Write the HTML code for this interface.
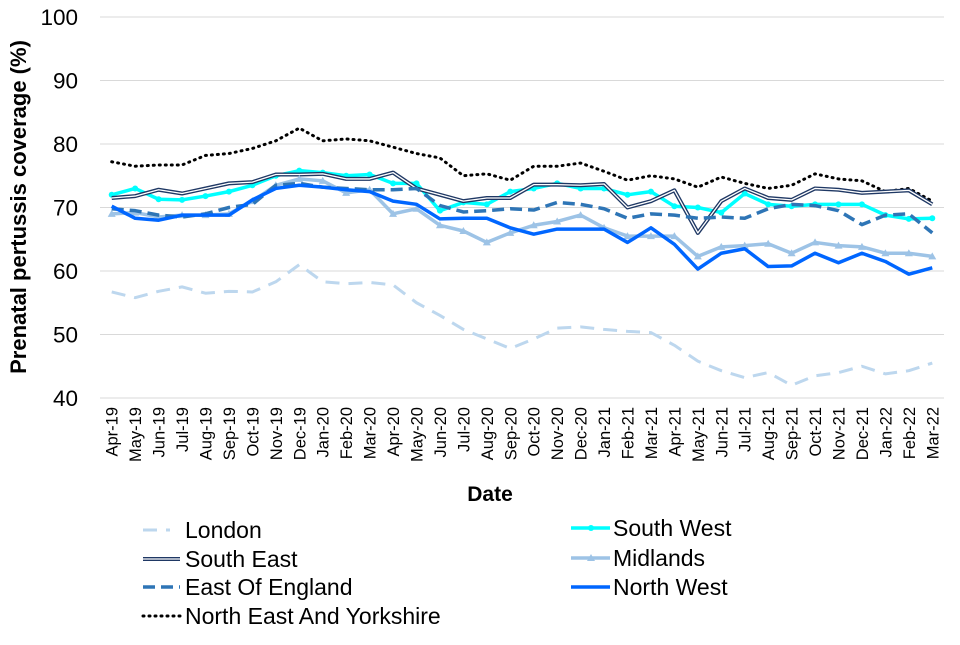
<!DOCTYPE html>
<html><head><meta charset="utf-8"><style>
body{margin:0;background:#fff;font-family:"Liberation Sans",Arial,sans-serif}
</style></head><body>
<svg id="c" width="960" height="640" font-family="Liberation Sans, Arial, sans-serif"></svg>
<script>
const months=["Apr-19","May-19","Jun-19","Jul-19","Aug-19","Sep-19","Oct-19","Nov-19","Dec-19","Jan-20","Feb-20","Mar-20","Apr-20","May-20","Jun-20","Jul-20","Aug-20","Sep-20","Oct-20","Nov-20","Dec-20","Jan-21","Feb-21","Mar-21","Apr-21","May-21","Jun-21","Jul-21","Aug-21","Sep-21","Oct-21","Nov-21","Dec-21","Jan-22","Feb-22","Mar-22"];
const yTicks=[40,50,60,70,80,90,100];
const london=[56.7,55.8,56.8,57.5,56.5,56.8,56.7,58.3,61,58.3,58,58.2,57.8,55,53,50.8,49.3,47.8,49.3,51,51.2,50.8,50.5,50.3,48.3,45.8,44.3,43.2,44,42,43.5,44,45,43.8,44.3,45.5];
const southWest=[72,73,71.3,71.2,71.8,72.5,73.5,75,75.8,75.5,75,75.2,73.8,73.8,69.5,70.8,70.5,72.5,73,73.8,73,73,72,72.5,70.2,70,69.2,72.2,70.5,70.2,70.5,70.5,70.5,68.8,68.2,68.3];
const southEast=[71.5,71.8,72.8,72.2,73,73.8,74,75.2,75.2,75.3,74.5,74.5,75.5,73,72,71,71.5,71.5,73.6,73.6,73.5,73.7,70,71,72.7,66,71,73,71.5,71.2,73,72.8,72.3,72.5,72.7,70.5];
const eastEngland=[69.8,69.5,68.8,68.5,69,70,70.5,73.5,73.8,73.2,73,72.8,72.8,73,70.3,69.3,69.5,69.8,69.6,70.8,70.5,69.8,68.3,69,68.8,68.3,68.5,68.3,69.8,70.5,70.3,69.5,67.3,68.8,69,66];
const midlands=[69,69.2,68.5,68.8,68.8,69,71,73.5,74.5,74.2,72.3,72.8,69,69.8,67.2,66.3,64.5,66,67.2,67.8,68.8,66.8,65.5,65.5,65.5,62.3,63.8,64,64.3,62.8,64.5,64,63.8,62.8,62.8,62.3];
const northWest=[70.2,68.3,68,68.8,68.8,68.8,71.2,73,73.5,73.2,72.8,72.5,71,70.5,68.2,68.3,68.3,66.8,65.8,66.6,66.6,66.6,64.5,66.8,64.2,60.3,62.8,63.5,60.7,60.8,62.8,61.3,62.8,61.5,59.5,60.5];
const northEast=[77.2,76.5,76.7,76.7,78.2,78.5,79.3,80.5,82.5,80.5,80.8,80.5,79.5,78.5,77.8,75,75.3,74.3,76.5,76.5,77,75.7,74.3,75,74.5,73.2,74.8,73.8,73,73.5,75.3,74.5,74.2,72.5,73,71];

const NS="http://www.w3.org/2000/svg",svg=document.getElementById('c');
const L=100,R=944,T=17,B=398;
const x=i=>L+(R-L)/months.length*(i+0.5);
const y=v=>B-(v-40)/60*(B-T);
function mk(tag,a,p){const e=document.createElementNS(NS,tag);for(const k in a)e.setAttribute(k,a[k]);(p||svg).appendChild(e);return e;}
yTicks.forEach(t=>{
  if(t>40){const g=mk('line',{x1:L,x2:R,y1:y(t),y2:y(t),stroke:'#d9d9d9','stroke-width':1});
  
  }
  const tx=mk('text',{x:78,y:y(t)+8,'text-anchor':'end','font-size':22.5,fill:'#000'});tx.textContent=t;
  
  
});
const ax=mk('line',{x1:L,x2:R,y1:B,y2:B,stroke:'#d9d9d9'});


months.forEach((m,i)=>{
  const tx=mk('text',{transform:`translate(${x(i)+6},407) rotate(-90)`,'text-anchor':'end','font-size':16.5,fill:'#000'});tx.textContent=m;
  
  
});
const xt=mk('text',{x:490,y:501,'text-anchor':'middle','font-size':21,'font-weight':'bold',fill:'#000'});xt.textContent='Date';


const yt=mk('text',{transform:'translate(26,207) rotate(-90)','text-anchor':'middle','font-size':22,'font-weight':'bold',fill:'#000'});yt.textContent='Prenatal pertussis coverage (%)';



const series=[
 {n:'London',d:london,c:'#bdd7ee',w:3,dash:'14 9'},
 {n:'South East',d:southEast,c:'#1f3864',w:4,inner:true},
 {n:'East Of England',d:eastEngland,c:'#2e75b6',w:3.5,dash:'12 6'},
 {n:'North East And Yorkshire',d:northEast,c:'#000',w:3,dash:'1 5',cap:'round'},
 {n:'South West',d:southWest,c:'#00ffff',w:3.5,mark:'dot'},
 {n:'Midlands',d:midlands,c:'#9dc3e6',w:3.5,mark:'tri'},
 {n:'North West',d:northWest,c:'#0066ff',w:3.5}
];
const order=[3,0,4,1,5,2,6];
function drawLine(s,pts,p,name){
  const a={points:pts,fill:'none',stroke:s.c,'stroke-width':s.w,'stroke-linejoin':'round'};
  if(s.dash)a['stroke-dasharray']=s.dash;
  if(s.cap)a['stroke-linecap']=s.cap;
  const e=mk('polyline',a,p);
  
  
  if(s.inner){const e2=mk('polyline',{points:pts,fill:'none',stroke:'#fff','stroke-width':1.3,'stroke-linejoin':'round'},p);
    
    }
}
function marker(s,cx,cy,p){
  let e;
  if(s.mark==='dot')e=mk('circle',{cx,cy,r:3,fill:s.c},p);
  else if(s.mark==='tri')e=mk('polygon',{points:`${cx},${cy-4} ${cx-4},${cy+3} ${cx+4},${cy+3}`,fill:s.c},p);
  if(e){
  }
}
order.forEach(k=>{
  const s=series[k],slug=s.n.toLowerCase().replace(/ /g,'-');
  const g=mk('g',{});
  
  
  drawLine(s,s.d.map((v,i)=>x(i)+','+y(v)).join(' '),g,'line-'+slug);
  if(s.mark)s.d.forEach((v,i)=>marker(s,x(i),y(v),g));
});
// legend
const lp=[[143,530],[143,559],[143,587],[143,616],[571,528],[571,558],[571,587]];
series.forEach((s,k)=>{
  const [lx,ly]=lp[k],slug=s.n.toLowerCase().replace(/ /g,'-');
  const g=mk('g',{});
  
  
  const len=k===0?27:(k<4?37:39);
  drawLine(s,`${lx},${ly} ${lx+len},${ly}`,g,'legend-line-'+slug);
  if(s.mark)marker(s,lx+20,ly,g);
  const t=mk('text',{x:k<4?185:613,y:ly+8,'font-size':23,fill:'#000'},g);t.textContent=s.n;
  
  
});
</script>
</body></html>
